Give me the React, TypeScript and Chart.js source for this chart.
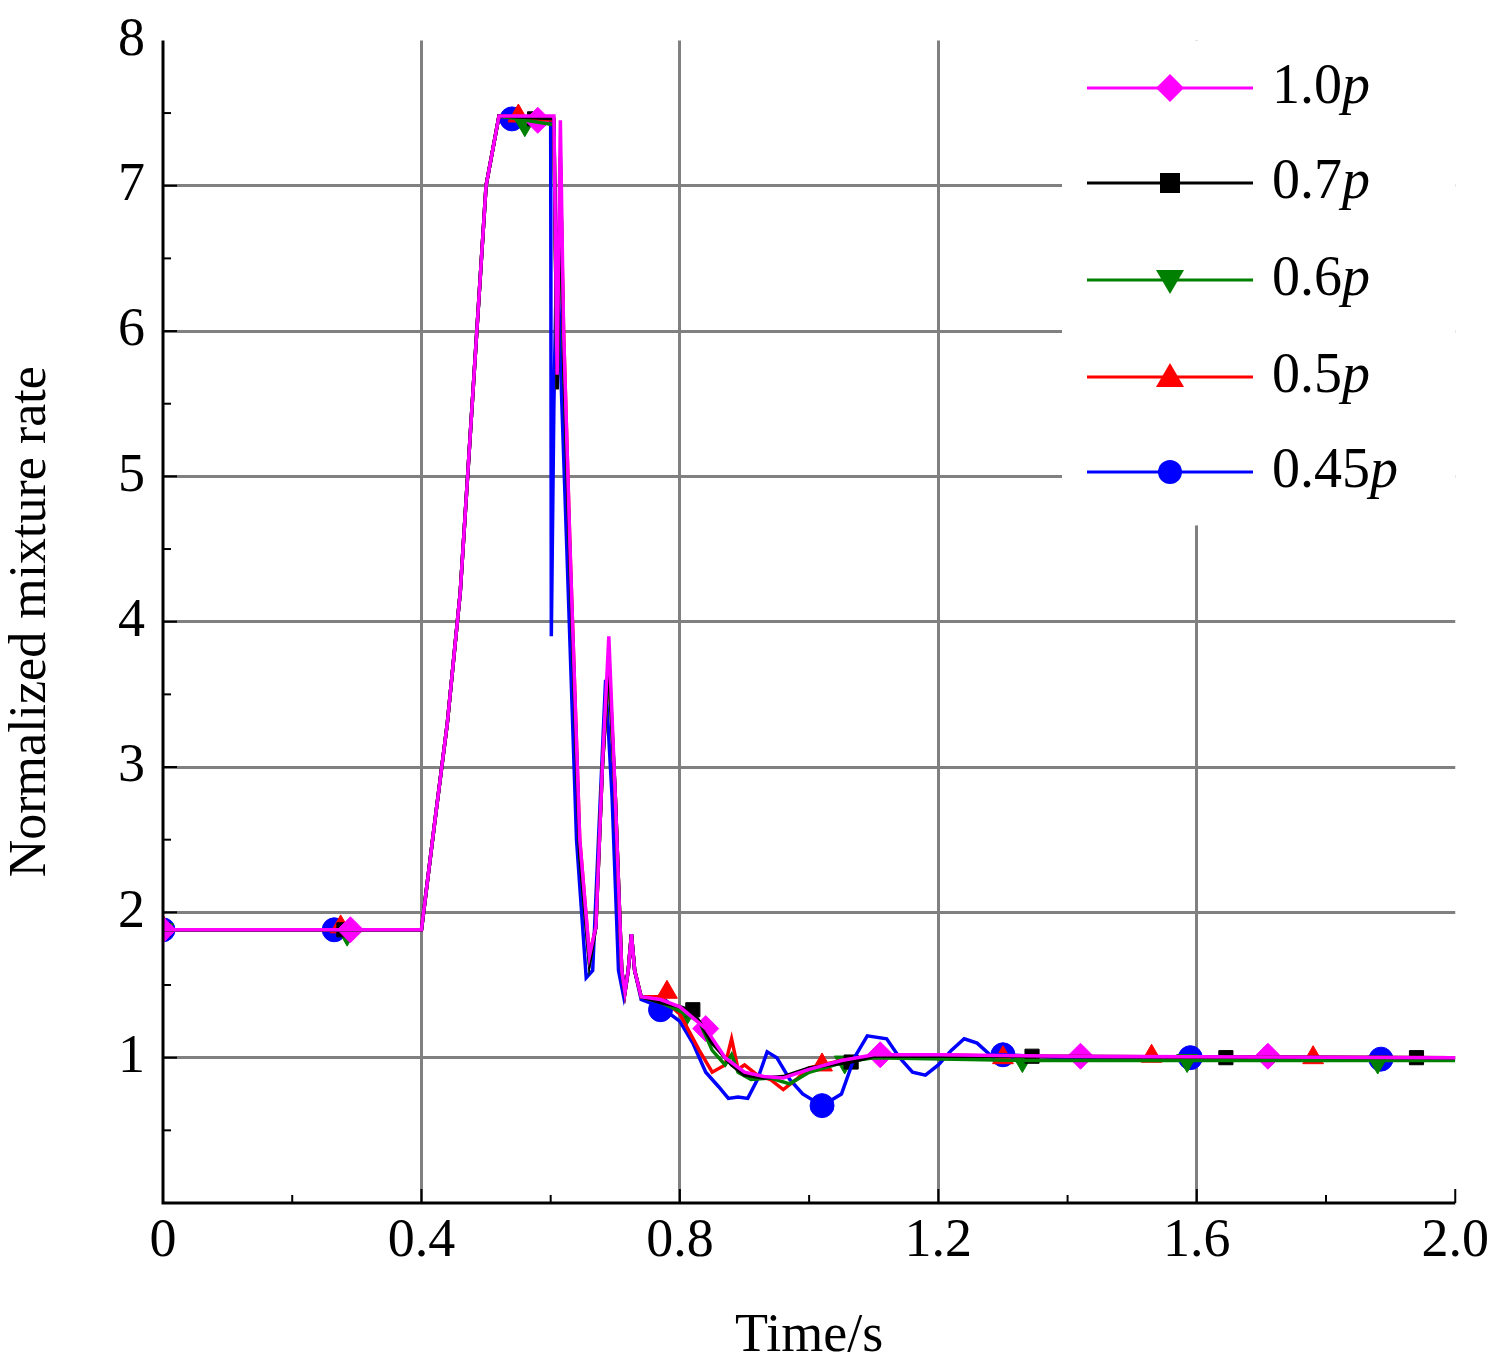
import React, { useEffect, useRef } from "react";
import { Chart, registerables } from "chart.js";
Chart.register(...registerables);

const xTicks = [0, 0.4, 0.8, 1.2, 1.6, 2.0];
const yTicks = [1, 2, 3, 4, 5, 6, 7, 8];
const labels = ["1.0", "0.7", "0.6", "0.5", "0.45"];
const colors = ["#ff00ff", "#000000", "#008000", "#ff0000", "#0000ff"];
const markers = ["rectRot", "rect", "triangleDown", "triangle", "circle"];

const rise: [number, number][] = [[0, 1.88], [0.4, 1.88], [0.42, 2.6], [0.44, 3.3], [0.46, 4.2], [0.48, 5.6], [0.5, 7.0], [0.52, 7.48]];

const line10: [number, number][] = [...rise, [0.605, 7.48], [0.61, 5.7], [0.615, 7.45], [0.62, 6.0], [0.63, 4.5], [0.645, 2.5], [0.66, 1.7], [0.67, 1.9], [0.68, 3.0], [0.69, 3.9], [0.7, 2.8], [0.71, 1.6], [0.715, 1.45], [0.72, 1.6], [0.725, 1.85], [0.73, 1.6], [0.74, 1.42], [0.77, 1.4], [0.8, 1.35], [0.84, 1.2], [0.87, 1.0], [0.9, 0.9], [0.93, 0.87], [0.96, 0.86], [1.0, 0.92], [1.05, 0.98], [1.1, 1.02], [1.2, 1.02], [1.4, 1.01], [2.0, 1.0]];
const line07: [number, number][] = [...rise, [0.605, 7.46], [0.61, 5.6], [0.615, 7.2], [0.62, 5.8], [0.63, 4.4], [0.645, 2.4], [0.66, 1.65], [0.67, 1.9], [0.68, 3.0], [0.69, 3.75], [0.7, 2.8], [0.71, 1.6], [0.715, 1.45], [0.72, 1.6], [0.725, 1.85], [0.73, 1.6], [0.74, 1.42], [0.77, 1.38], [0.8, 1.35], [0.82, 1.32], [0.85, 1.1], [0.88, 0.95], [0.9, 0.88], [0.93, 0.86], [0.96, 0.87], [1.0, 0.93], [1.065, 0.97], [1.1, 1.01], [1.3, 1.01], [2.0, 1.0]];
const line06: [number, number][] = [...rise, [0.605, 7.42], [0.61, 5.6], [0.615, 7.15], [0.62, 5.8], [0.63, 4.4], [0.645, 2.4], [0.66, 1.65], [0.67, 1.9], [0.68, 3.0], [0.69, 3.7], [0.7, 2.8], [0.71, 1.6], [0.715, 1.45], [0.72, 1.6], [0.725, 1.85], [0.73, 1.6], [0.74, 1.42], [0.77, 1.38], [0.8, 1.32], [0.83, 1.25], [0.85, 1.05], [0.87, 0.95], [0.88, 1.02], [0.89, 0.9], [0.91, 0.85], [0.94, 0.86], [0.97, 0.82], [1.0, 0.9], [1.055, 0.97], [1.1, 1.0], [1.33, 0.98], [1.6, 0.98], [2.0, 0.98]];
const line05: [number, number][] = [...rise, [0.605, 7.45], [0.61, 5.6], [0.615, 7.1], [0.62, 6.0], [0.63, 4.5], [0.645, 2.5], [0.66, 1.7], [0.67, 1.9], [0.68, 3.0], [0.69, 3.7], [0.7, 2.8], [0.71, 1.6], [0.715, 1.45], [0.72, 1.6], [0.725, 1.85], [0.73, 1.6], [0.74, 1.42], [0.77, 1.42], [0.8, 1.3], [0.83, 1.05], [0.85, 0.9], [0.87, 0.95], [0.88, 1.13], [0.89, 0.92], [0.9, 0.95], [0.92, 0.88], [0.94, 0.85], [0.96, 0.78], [0.98, 0.85], [1.0, 0.93], [1.05, 0.98], [1.1, 1.01], [1.2, 1.02], [1.3, 1.01], [2.0, 1.0]];
const line045: [number, number][] = [...rise, [0.6, 7.46], [0.601, 3.9], [0.605, 5.5], [0.61, 6.7], [0.615, 5.8], [0.625, 4.5], [0.64, 2.5], [0.655, 1.55], [0.665, 1.6], [0.675, 2.6], [0.685, 3.6], [0.695, 2.8], [0.705, 1.6], [0.713, 1.42], [0.72, 1.6], [0.725, 1.85], [0.73, 1.6], [0.74, 1.4], [0.77, 1.35], [0.8, 1.25], [0.82, 1.1], [0.84, 0.9], [0.86, 0.8], [0.875, 0.72], [0.89, 0.73], [0.905, 0.72], [0.92, 0.85], [0.935, 1.04], [0.95, 1.0], [0.97, 0.85], [0.99, 0.75], [1.02, 0.67], [1.05, 0.75], [1.07, 1.0], [1.09, 1.15], [1.12, 1.13], [1.14, 1.0], [1.16, 0.9], [1.18, 0.88], [1.2, 0.95], [1.22, 1.05], [1.24, 1.13], [1.26, 1.1], [1.28, 1.02], [1.3, 1.02], [1.4, 1.0], [2.0, 0.99]];

const mk10: [number, number][] = [[0, 1.88], [0.29, 1.88], [0.58, 7.45], [0.84, 1.2], [1.11, 1.02], [1.42, 1.01], [1.71, 1.01]];
const mk07: [number, number][] = [[0, 1.88], [0.28, 1.88], [0.575, 7.46], [0.82, 1.33], [1.065, 0.97], [1.345, 1.01], [1.645, 1.0], [1.94, 1.0]];
const mk06: [number, number][] = [[0, 1.88], [0.285, 1.85], [0.56, 7.42], [0.81, 1.3], [1.055, 0.97], [1.33, 0.98], [1.585, 0.98], [1.88, 0.97]];
const mk05: [number, number][] = [[0, 1.9], [0.275, 1.9], [0.55, 7.48], [0.78, 1.45], [1.02, 0.95], [1.3, 1.0], [1.53, 1.01], [1.78, 1.0]];
const mk045: [number, number][] = [[0, 1.88], [0.265, 1.88], [0.54, 7.46], [0.77, 1.33], [1.02, 0.67], [1.3, 1.02], [1.59, 1.0], [1.885, 0.99]];

const lines = [line10, line07, line06, line05, line045];
const marks = [mk10, mk07, mk06, mk05, mk045];

export default function App() {
  const ref = useRef<HTMLCanvasElement>(null);
  useEffect(() => {
    document.body.style.margin = "0";
    document.body.style.overflow = "hidden";
    const toPts = (a: [number, number][]) => a.map(([x, y]) => ({ x, y }));
    const datasets: any[] = [];
    lines.forEach((l, i) => datasets.push({ data: toPts(l), borderColor: colors[i], borderWidth: 3.5, pointRadius: 0, tension: 0 }));
    marks.forEach((m, i) => {
      const st = markers[i];
      datasets.push({
        data: toPts(m), showLine: false,
        pointStyle: st === "triangleDown" ? "triangle" : st,
        pointRotation: st === "triangleDown" ? 180 : 0,
        pointRadius: st === "rect" ? 10 : st === "rectRot" ? 13 : 12,
        backgroundColor: colors[i], borderColor: colors[i],
      });
    });
    const font = "'Liberation Serif', 'Times New Roman', serif";
    const deco = {
      id: "deco",
      afterDraw(chart: any) {
        const c = chart.ctx, a = chart.chartArea, xs = chart.scales.x, ys = chart.scales.y;
        c.save();
        c.strokeStyle = "#000"; c.lineWidth = 3;
        c.beginPath(); c.moveTo(a.left, a.top); c.lineTo(a.left, a.bottom); c.lineTo(a.right, a.bottom); c.stroke();
        c.lineWidth = 2;
        for (let v = 0.5; v < 8; v += 0.5) { const y = ys.getPixelForValue(v); c.beginPath(); c.moveTo(a.left, y); c.lineTo(a.left + (v % 1 === 0 ? 14 : 8), y); c.stroke(); }
        for (let v = 0.2; v < 2.0; v += 0.2) { const x = xs.getPixelForValue(v); c.beginPath(); c.moveTo(x, a.bottom); c.lineTo(x, a.bottom - (Math.round(v * 10) % 4 === 0 ? 14 : 8)); c.stroke(); }
        // legend
        c.fillStyle = "#fff"; c.fillRect(1062, a.top, a.right - 1062, 485);
        const rows = [88, 183, 280, 377, 472].map((r) => r + 10);
        rows.forEach((ry, i) => {
          c.strokeStyle = colors[i]; c.lineWidth = 3;
          c.beginPath(); c.moveTo(1087, ry); c.lineTo(1253, ry); c.stroke();
          c.fillStyle = colors[i];
          const st = markers[i];
          const r = st === "rect" ? 10 : 12;
          c.beginPath();
          if (st === "circle") c.arc(1170, ry, r, 0, Math.PI * 2);
          else if (st === "rect") c.rect(1170 - r, ry - r, 2 * r, 2 * r);
          else if (st === "rectRot") { c.moveTo(1170, ry - 14); c.lineTo(1184, ry); c.lineTo(1170, ry + 14); c.lineTo(1156, ry); }
          else if (st === "triangle") { c.moveTo(1170, ry - 14); c.lineTo(1184, ry + 10); c.lineTo(1156, ry + 10); }
          else { c.moveTo(1170, ry + 14); c.lineTo(1184, ry - 10); c.lineTo(1156, ry - 10); }
          c.closePath(); c.fill();
          c.fillStyle = "#000"; c.textBaseline = "middle"; c.textAlign = "left";
          c.font = `56px ${font}`;
          c.fillText(labels[i], 1272, ry);
          const w = c.measureText(labels[i]).width;
          c.font = `italic 56px ${font}`;
          c.fillText("p", 1272 + w, ry);
        });
        c.restore();
      },
    };
    const chart = new Chart(ref.current!, {
      type: "line",
      data: { datasets },
      plugins: [deco],
      options: {
        animation: false, responsive: false, devicePixelRatio: 1,
        layout: { padding: { top: 0, right: 32, left: 0, bottom: 0 } },
        plugins: { legend: { display: false }, tooltip: { enabled: false } },
        scales: {
          x: {
            type: "linear", min: 0, max: 2.0,
            afterBuildTicks: (s: any) => { s.ticks = xTicks.map((v) => ({ value: v })); },
            afterFit: (s: any) => { s.height = 166; },
            ticks: { font: { family: font, size: 54 }, color: "#000", padding: 6, callback: (v: any) => (v === 0 ? "0" : Number(v).toFixed(1)), maxRotation: 0 },
            grid: { color: (c: any) => (c.tick && (c.tick.value === 0 || c.tick.value === 2) ? "rgba(0,0,0,0)" : "#808080"), lineWidth: 3, drawTicks: false },
            border: { display: false },
            title: { display: true, text: "Time/s", font: { family: font, size: 54 }, color: "#000", padding: { top: 0, bottom: 0 } },
          },
          y: {
            min: 0, max: 8,
            afterBuildTicks: (s: any) => { s.ticks = yTicks.map((v) => ({ value: v })); },
            afterFit: (s: any) => { s.width = 163; },
            ticks: { font: { family: font, size: 54 }, color: "#000", padding: 18 },
            grid: { color: (c: any) => (c.tick && c.tick.value === 8 ? "rgba(0,0,0,0)" : "#808080"), lineWidth: 3, drawTicks: false },
            border: { display: false },
            title: { display: true, text: "Normalized mixture rate", font: { family: font, size: 52 }, color: "#000", padding: { top: 0, bottom: 0 } },
          },
        },
      } as any,
    });
    return () => chart.destroy();
  }, []);
  return (
    <div style={{ width: 1495, height: 1369, overflow: "hidden" }}>
      <canvas ref={ref} width={1495} height={1379} style={{ display: "block", marginTop: -10 }} />
    </div>
  );
}
